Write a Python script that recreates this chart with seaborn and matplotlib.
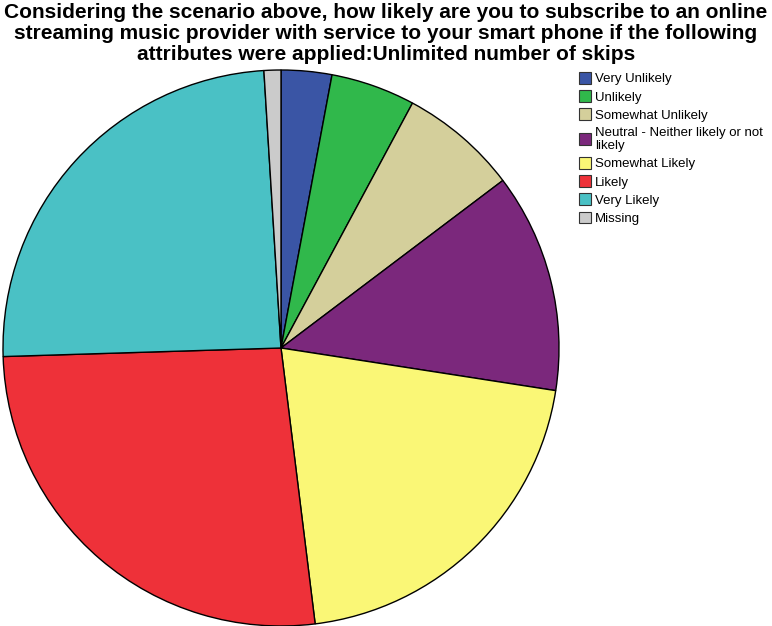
import matplotlib
matplotlib.use('Agg')
import matplotlib.pyplot as plt
import seaborn as sns
from matplotlib.patches import Patch

# categorie e conteggi
categorie = ['Very Unlikely', 'Unlikely', 'Somewhat Unlikely',
             'Neutral - Neither likely or not\nlikely', 'Somewhat Likely',
             'Likely', 'Very Likely', 'Missing']
conteggi = [3, 5, 7, 13, 21, 27, 25, 1]
colori = ['#3a55a5', '#30b84b', '#d4cf9b', '#7b287c', '#faf776',
          '#ee3139', '#4ac1c5', '#cbcbcb']

sns.set_style('white')
plt.rcParams['font.family'] = ['Liberation Sans', 'DejaVu Sans']
plt.rcParams['text.color'] = 'black'

fig = plt.figure(figsize=(7.72, 6.26), dpi=100)

# asse della torta: centro (281,348), raggio 278 px
r = 278
ax = fig.add_axes([(281 - r - 2) / 772, (626 - 348 - r - 2) / 626,
                   (2 * r + 4) / 772, (2 * r + 4) / 626])
ax.pie(conteggi, colors=colori, startangle=90, counterclock=False,
       wedgeprops={'edgecolor': 'black', 'linewidth': 1})
lim = (r + 2) / r
ax.set_xlim(-lim, lim)
ax.set_ylim(-lim, lim)
ax.set_aspect('auto')
ax.axis('off')

# titolo
fig.text(386 / 772, 1 - 3 / 626,
         'Considering the scenario above, how likely are you to subscribe to an online\n'
         'streaming music provider with service to your smart phone if the following\n'
         'attributes were applied:Unlimited number of skips',
         ha='center', va='top', fontsize=15, fontweight='bold', linespacing=1.12)

# legenda
maniglie = [Patch(facecolor=c, edgecolor='#333333', linewidth=0.8) for c in colori]
fig.legend(maniglie, categorie, loc='upper left', bbox_to_anchor=(579 / 772, 1 - 72 / 626),
           frameon=False, fontsize=9.5, handlelength=0.9, handleheight=1.0,
           handletextpad=0.3, labelspacing=0.36, borderaxespad=0, borderpad=0)

fig.savefig('out.png', dpi=100)
